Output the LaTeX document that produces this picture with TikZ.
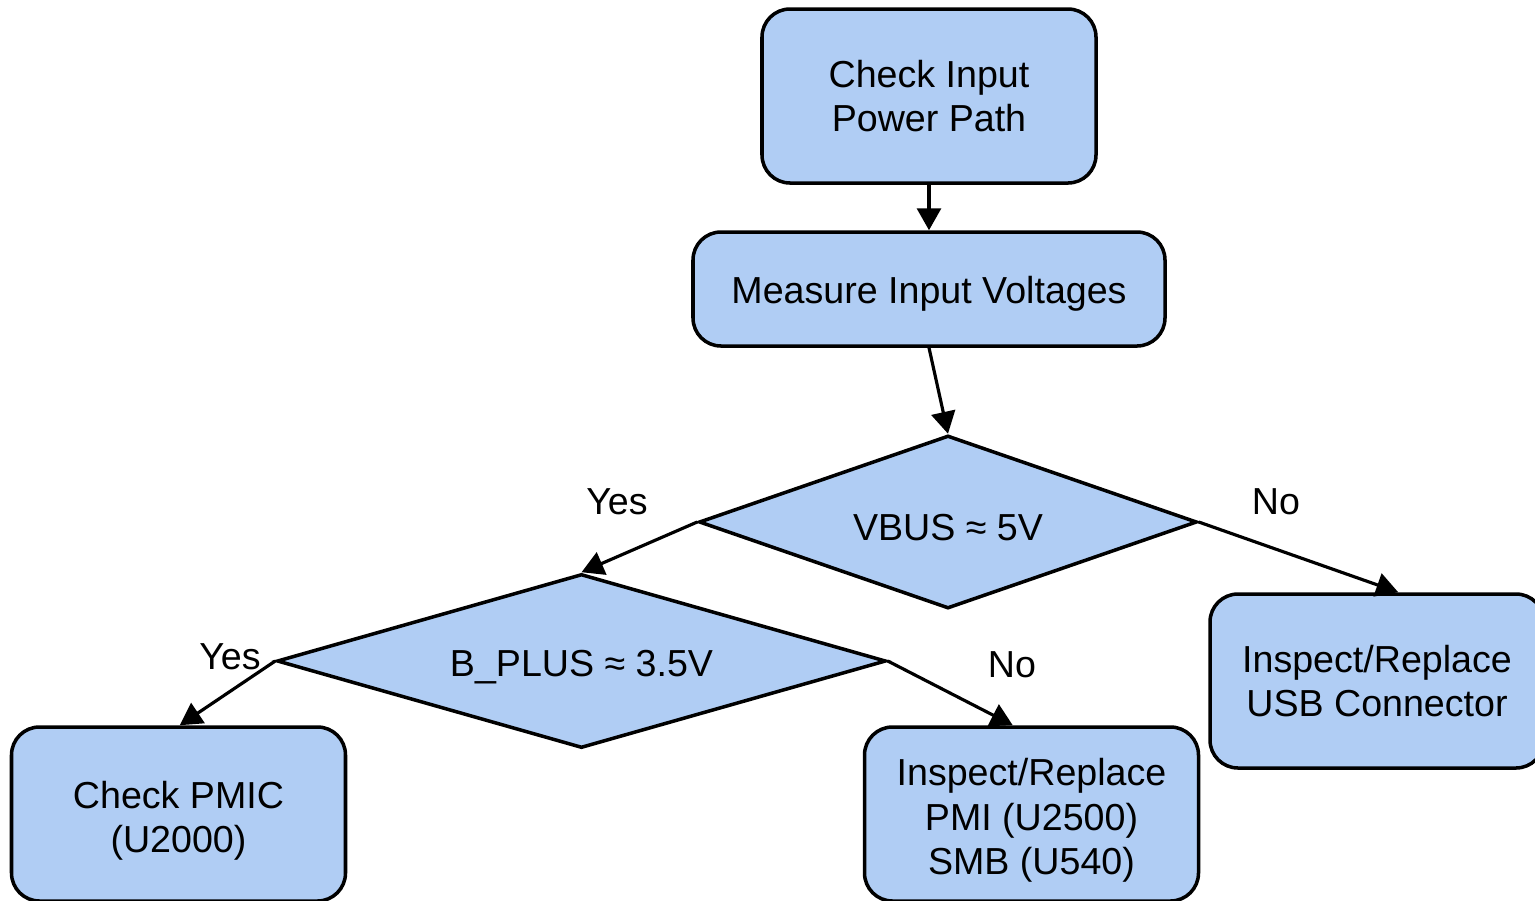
\documentclass[tikz,border=0pt]{standalone}
\usepackage{fontspec}
\setmainfont{Liberation Sans}
\usetikzlibrary{shapes.geometric,arrows.meta}
\definecolor{boxblue}{RGB}{176,205,244}
\newcommand{\topstrut}{\rule{0pt}{11.4pt}}
\begin{document}
\begin{tikzpicture}[
  x=1cm,y=1cm,
  every node/.style={font=\fontsize{10.7pt}{12.6pt}\selectfont, text=black},
  procbox/.style={draw=black, line width=1.0pt, fill=boxblue, rounded corners=0.28cm,
    align=center, inner sep=0pt, minimum width=3.34cm, minimum height=1.74cm},
  decision/.style={draw=black, line width=1.0pt, fill=boxblue, diamond, inner sep=0pt},
  lowered/.style={execute at begin node={\rule{0pt}{10.7pt}}},
  conn/.style={line width=0.9pt, -{Triangle[length=0.22cm,width=0.24cm]}},
  lbl/.style={inner sep=0pt}
]
\useasboundingbox (0,0) rectangle (15.35,-9.00);
\clip (0,0) rectangle (15.35,-9.00);

\node[procbox] (check) at (9.29,-0.96) {Check Input\\Power Path};
\node[procbox, lowered, minimum width=4.72cm, minimum height=1.14cm] (measure) at (9.29,-2.89) {Measure Input Voltages};
\node[decision, lowered, minimum width=4.98cm, minimum height=1.73cm, aspect=2.88] (vbus) at (9.48,-5.22) {VBUS ≈ 5V};
\node[decision, lowered, minimum width=6.09cm, minimum height=1.74cm, aspect=3.5] (bplus) at (5.815,-6.61) {B\_PLUS ≈ 3.5V};
\node[procbox] (usb) at (13.77,-6.81) {Inspect/Replace\\USB Connector};
\node[procbox] (pmic) at (1.785,-8.14) {\topstrut Check PMIC\\(U2000)};
\node[procbox] (pmi) at (10.315,-8.14) {\topstrut Inspect/Replace\\PMI (U2500)\\SMB (U540)};

\draw[conn] (check.south) -- (measure.north);
\draw[conn] (measure.south) -- (vbus.north);
\draw[conn] (vbus.west) -- (bplus.north);
\draw[conn] (vbus.east) -- ([xshift=1.90cm]usb.north west);
\draw[conn] (bplus.west) -- ([xshift=1.70cm]pmic.north west);
\draw[conn] (bplus.east) -- ([xshift=1.50cm]pmi.north west);

\node[lbl] (yes1) at (6.17,-5.02) {Yes};
\node[lbl] (no1) at (12.76,-5.02) {No};
\node[lbl] (yes2) at (2.30,-6.57) {Yes};
\node[lbl] (no2) at (10.12,-6.65) {No};
\end{tikzpicture}
\end{document}
